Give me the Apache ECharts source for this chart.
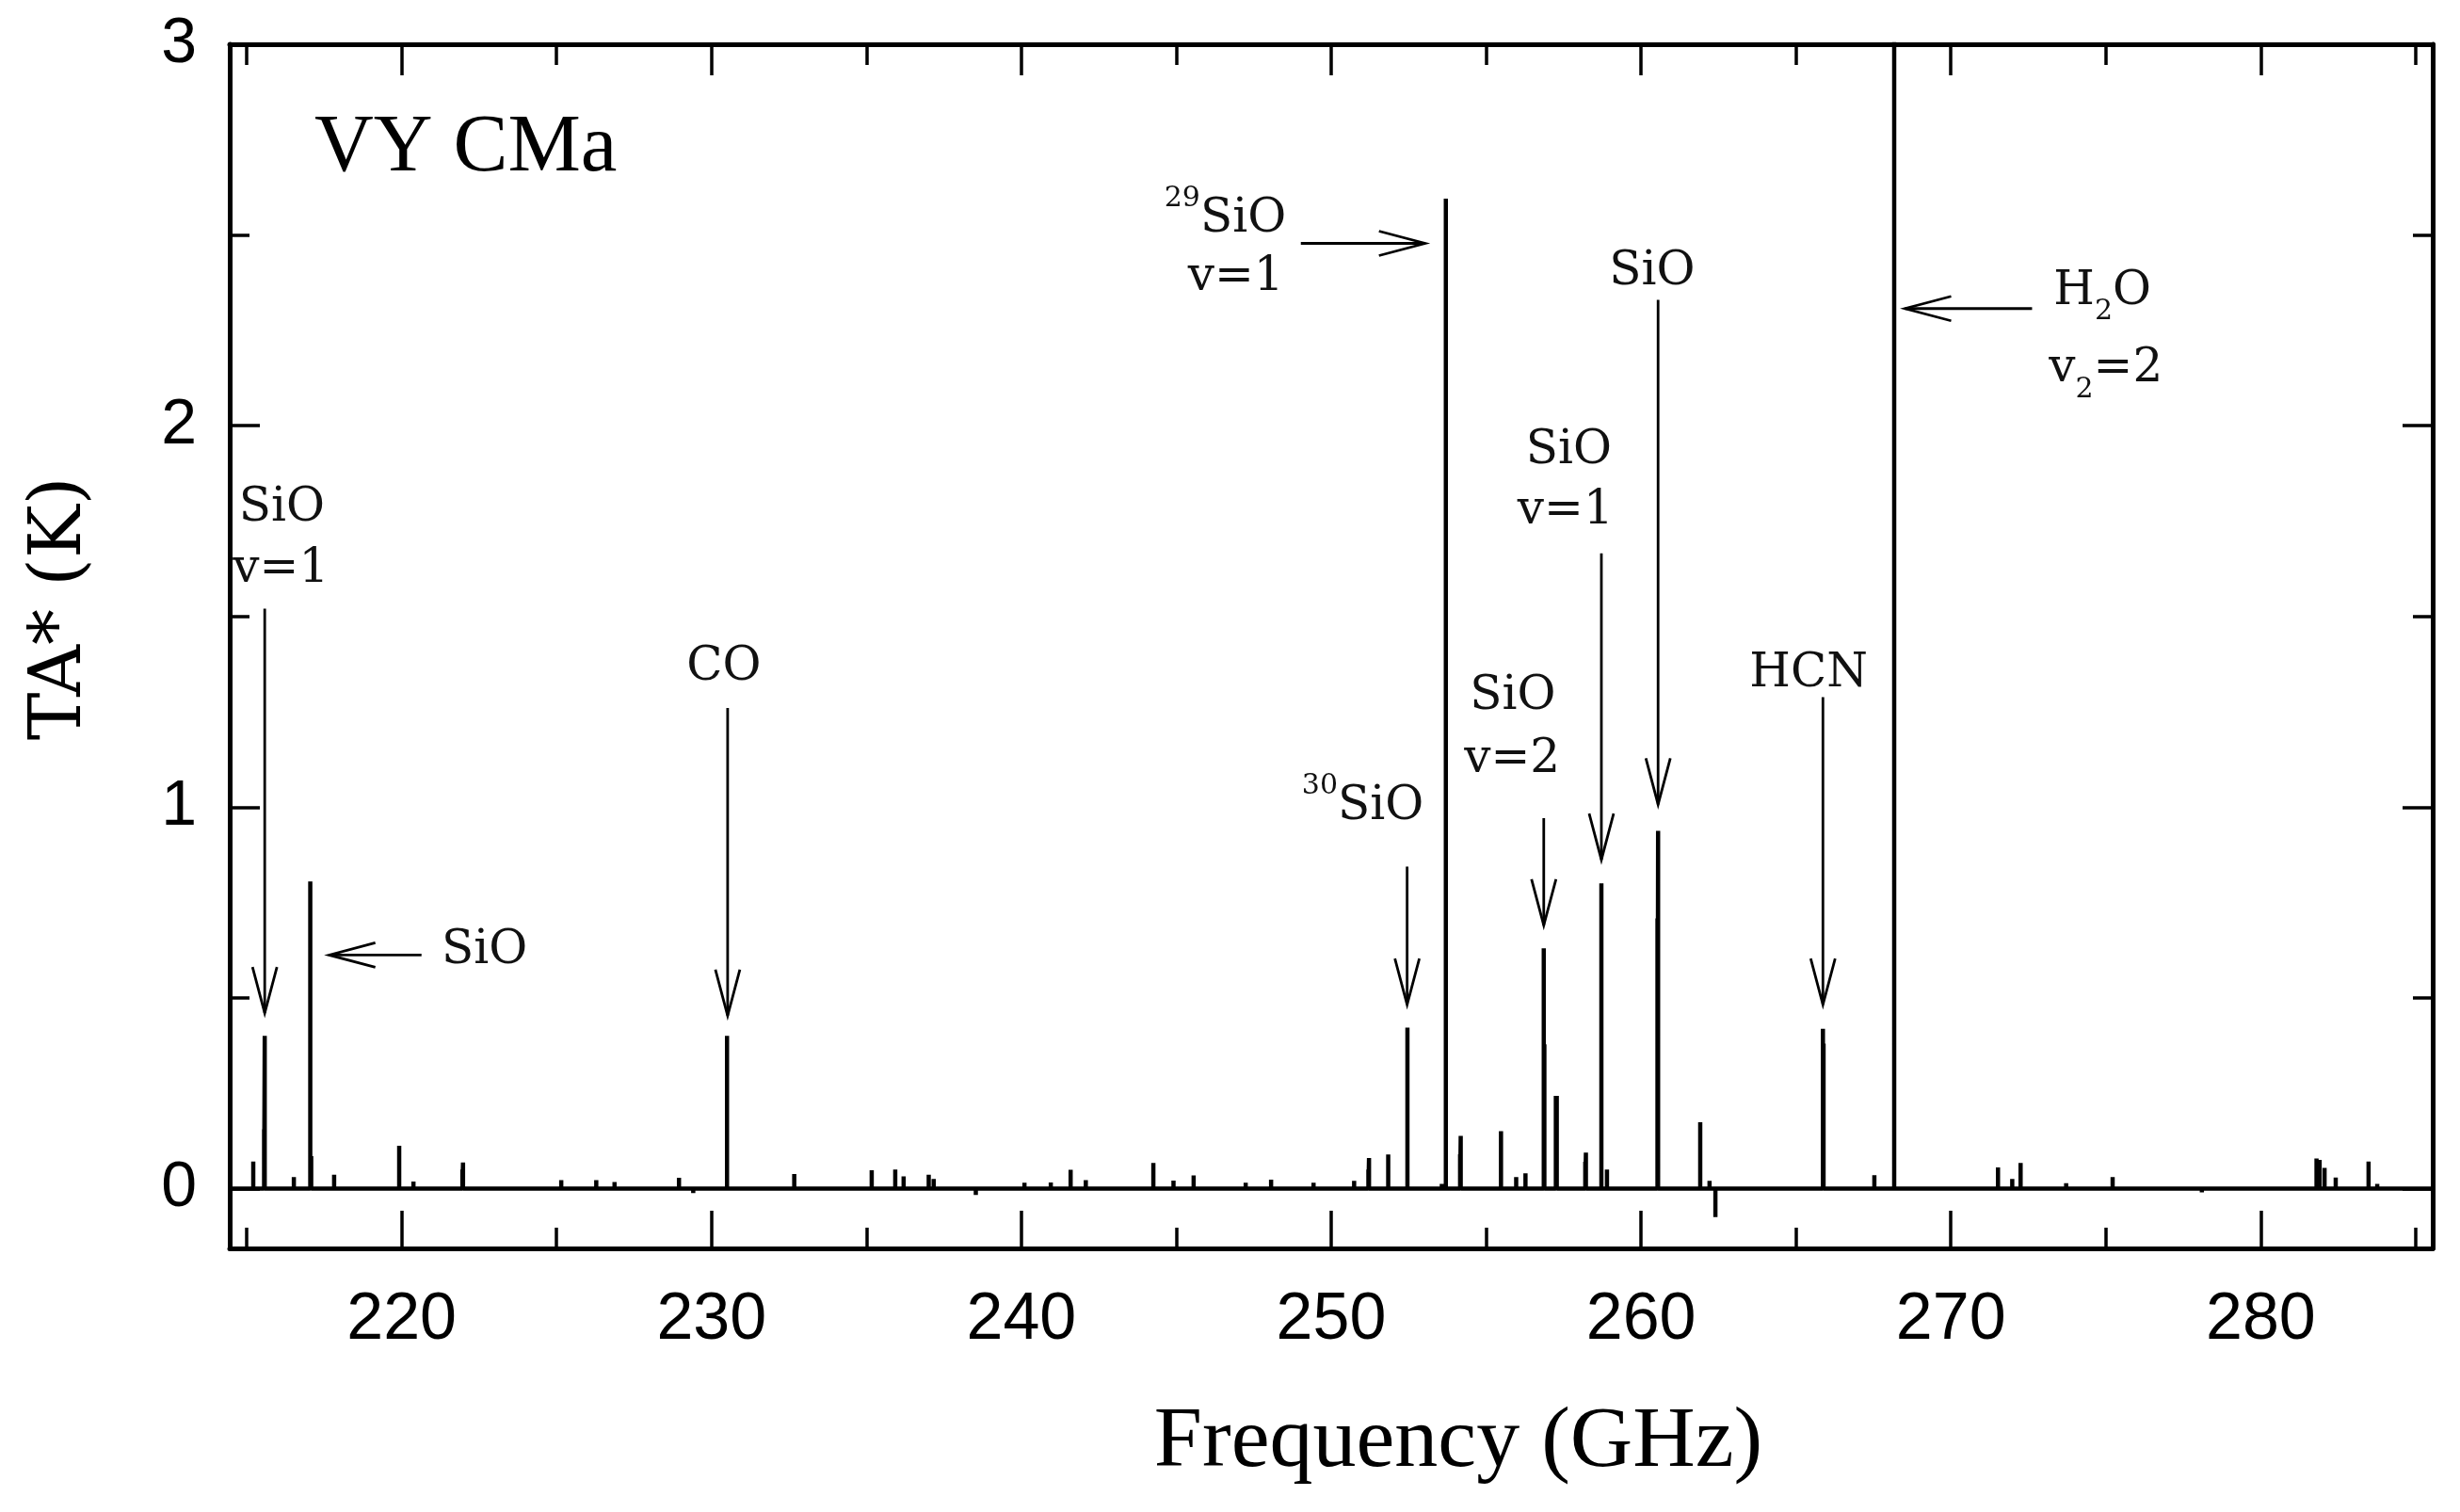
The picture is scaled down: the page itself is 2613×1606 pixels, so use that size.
<!DOCTYPE html>
<html>
<head>
<meta charset="utf-8">
<script src="https://cdn.jsdelivr.net/npm/echarts@6.0.0/dist/echarts.min.js"></script>
<style>
  html, body { margin: 0; padding: 0; background: #fff; }
  #main { width: 2613px; height: 1606px; }
</style>
</head>
<body>
<div id="main"></div>
<script>
// spectral lines: frequency (GHz) and peak TA* (K)
var lineFreq = [
  215.21, 215.56, 215.58, 216.52, 217.05, 217.08, 217.82, 219.92, 220.38, 221.96,
  221.98, 225.15, 226.28, 226.87, 228.95, 229.41, 230.50, 232.67, 235.17, 235.93,
  236.20, 237.01, 237.17, 238.53, 240.10, 240.95, 241.59, 242.08, 244.26, 244.91,
  245.56, 247.24, 248.06, 249.43, 250.74, 251.20, 251.22, 251.84, 252.46, 253.57,
  253.70, 254.16, 254.18, 255.48, 255.97, 256.27, 256.86, 256.88, 257.25, 257.28,
  258.20, 258.22, 258.72, 258.90, 260.53, 260.55, 261.91, 262.21, 262.40, 265.87,
  265.89, 267.53, 268.17, 271.52, 271.98, 272.25, 273.72, 275.22, 278.10, 281.80,
  281.90, 282.06, 282.42, 283.48, 283.76
];
var lineTA = [
  0.071, 0.155, 0.400, 0.030, 0.805, 0.085, 0.036, 0.112, 0.018, 0.050,
  0.068, 0.022, 0.022, 0.017, 0.028, -0.012, 0.400, 0.038, 0.048, 0.050,
  0.032, 0.036, 0.025, -0.017, 0.015, 0.016, 0.049, 0.022, 0.067, 0.021,
  0.034, 0.015, 0.023, 0.015, 0.020, 0.050, 0.080, 0.089, 0.422, 0.012,
  2.595, 0.090, 0.138, 0.150, 0.030, 0.040, 0.630, 0.378, 0.243, 0.243,
  0.070, 0.094, 0.800, 0.050, 0.708, 0.938, 0.174, 0.020, -0.075, 0.419,
  0.380, 0.035, 3.400, 0.055, 0.025, 0.067, 0.014, 0.030, -0.010, 0.079,
  0.075, 0.054, 0.029, 0.071, 0.012
];

// axis ranges and ticks
var xMin = 214.45, xMax = 285.55;
var yMin = -0.157, yMax = 3;
var xMajor = [220, 230, 240, 250, 260, 270, 280];
var xMinor = [215, 225, 235, 245, 255, 265, 275, 285];
var yMajor = [0, 1, 2, 3];
var yMinor = [0.5, 1.5, 2.5];

// line identifications: text and its centre in data units
var annoText = [
  'SiO', 'v=1', 'SiO', 'CO', '{sup|29}SiO', 'v=1', '{sup|30}SiO', 'SiO', 'v=2',
  'SiO', 'v=1', 'SiO', 'HCN', 'H{sub|2}O', 'v{sub|2}=2'
];
var annoX = [216.13, 216.10, 222.67, 230.40, 246.58, 246.92, 251.02, 255.86, 255.84,
             257.67, 257.56, 260.36, 265.41, 274.89, 275.00];
var annoY = [1.783, 1.623, 0.623, 1.367, 2.541, 2.388, 1.000, 1.289, 1.124,
             1.934, 1.776, 2.403, 1.348, 2.352, 2.148];

// arrows: tail -> head, data units
var arrowFrom = [[215.58, 1.52], [220.64, 0.612], [230.52, 1.26], [249.02, 2.478], [252.45, 0.844],
                 [256.86, 0.971], [258.72, 1.665], [260.55, 2.33], [265.87, 1.288], [272.62, 2.307]];
var arrowTo   = [[215.58, 0.46], [217.66, 0.612], [230.52, 0.453], [253.03, 2.478], [252.45, 0.482],
                 [256.86, 0.690], [258.72, 0.862], [260.55, 1.007], [265.87, 0.482], [268.52, 2.307]];

// spectrum as a polyline: baseline with a spike at every line
var spectrum = [[xMin, 0]];
lineFreq.forEach(function (f, i) {
  spectrum.push([f, 0], [f, lineTA[i]], [f, 0]);
});
spectrum.push([xMax, 0]);

var serif = 'DejaVu Serif';
var sans = 'Liberation Sans';

function xAx(pos, ticks, len, main) {
  return {
    type: 'value', min: xMin, max: xMax, position: pos, gridIndex: 0,
    axisLine: { show: main, onZero: false, lineStyle: { color: '#000', width: 5 } },
    axisTick: { show: true, inside: true, length: len, customValues: ticks, lineStyle: { color: '#000', width: 3.5 } },
    axisLabel: { show: main && pos === 'bottom', customValues: ticks, margin: 42, fontFamily: sans, fontSize: 70, color: '#000' },
    splitLine: { show: false }
  };
}
function yAx(pos, ticks, len, main) {
  return {
    type: 'value', min: yMin, max: yMax, position: pos, gridIndex: 0,
    axisLine: { show: main, onZero: false, lineStyle: { color: '#000', width: 5 } },
    axisTick: { show: true, inside: true, length: len, customValues: ticks, lineStyle: { color: '#000', width: 3.5 } },
    axisLabel: { show: main && pos === 'left', customValues: ticks, margin: 35, fontFamily: sans, fontSize: 68, color: '#000' },
    splitLine: { show: false }
  };
}

var xAxes = [xAx('bottom', xMajor, 40, true), xAx('bottom', xMinor, 22, false),
             xAx('top', xMajor, 33, true), xAx('top', xMinor, 22, false)];
xAxes[0].name = 'Frequency (GHz)';
xAxes[0].nameLocation = 'middle';
xAxes[0].nameGap = 161;
xAxes[0].nameTextStyle = { fontFamily: 'Liberation Serif', fontSize: 92, color: '#000', padding: [0, 0, 0, 270] };

var yAxes = [yAx('left', yMajor, 32, true), yAx('left', yMinor, 21, false),
             yAx('right', yMajor, 32, true), yAx('right', yMinor, 21, false)];
yAxes[0].name = 'TA* (K)';
yAxes[0].nameLocation = 'middle';
yAxes[0].nameGap = 141;
yAxes[0].nameTextStyle = { fontFamily: serif, fontSize: 76, color: '#000', padding: [0, 0, 0, 80] };

var chart = echarts.init(document.getElementById('main'));
chart.setOption({
  animation: false,
  backgroundColor: '#fff',
  title: {
    text: 'VY CMa', left: 334, top: 115, padding: 0,
    textStyle: { fontFamily: 'Liberation Serif', fontSize: 87, fontWeight: 'normal', color: '#000' }
  },
  grid: { left: 244, right: 29, top: 47, bottom: 280 },
  xAxis: xAxes,
  yAxis: yAxes,
  series: [
    {
      type: 'line', data: spectrum, showSymbol: false, clip: true,
      lineStyle: { color: '#000', width: 4.5 }
    },
    {
      type: 'custom', coordinateSystem: 'cartesian2d',
      data: arrowFrom.map(function (a, i) { return [a[0], a[1], arrowTo[i][0], arrowTo[i][1]]; }),
      encode: { x: [0, 2], y: [1, 3] },
      renderItem: function (params, api) {
        var p1 = api.coord([api.value(0), api.value(1)]);
        var p2 = api.coord([api.value(2), api.value(3)]);
        var dx = p2[0] - p1[0], dy = p2[1] - p1[1];
        var len = Math.sqrt(dx * dx + dy * dy);
        var ux = dx / len, uy = dy / len;
        var L = 49, W = 13;
        var bx = p2[0] - ux * L, by = p2[1] - uy * L;
        var st = { stroke: '#000', lineWidth: 2.8, fill: null };
        return {
          type: 'group',
          children: [
            { type: 'line', shape: { x1: p1[0], y1: p1[1], x2: p2[0], y2: p2[1] }, style: st },
            { type: 'polyline', shape: { points: [[bx - uy * W, by + ux * W], p2, [bx + uy * W, by - ux * W]] }, style: st }
          ]
        };
      }
    },
    {
      type: 'custom', coordinateSystem: 'cartesian2d',
      data: annoX.map(function (x, i) { return [x, annoY[i]]; }),
      renderItem: function (params, api) {
        var p = api.coord([api.value(0), api.value(1)]);
        var t = annoText[params.dataIndex];
        var rich = t.indexOf('{') >= 0;
        return {
          type: 'text', x: p[0], y: p[1],
          style: {
            text: t, fill: '#111', fontFamily: serif, fontSize: 50,
            align: 'center', verticalAlign: 'middle',
            lineHeight: rich ? 74 : 60,
            rich: {
              sup: { fontFamily: serif, fontSize: 30, lineHeight: 32, verticalAlign: 'top', fill: '#111' },
              sub: { fontFamily: serif, fontSize: 30, lineHeight: 24, verticalAlign: 'bottom', fill: '#111' }
            }
          }
        };
      }
    }
  ]
});
</script>
</body>
</html>
